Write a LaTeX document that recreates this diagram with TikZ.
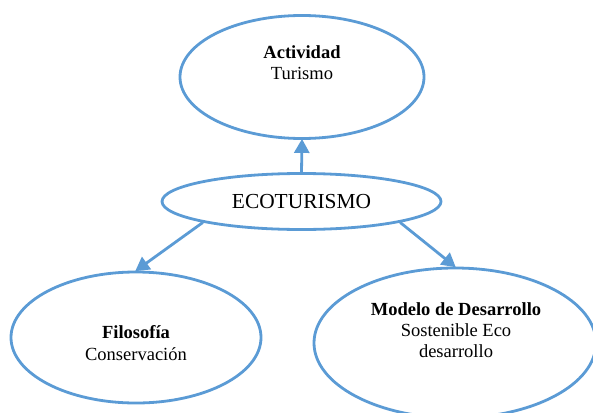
\documentclass[tikz,border=0pt]{standalone}
\usepackage{fontspec}
\setmainfont{Liberation Serif}
\usetikzlibrary{shapes.geometric,arrows.meta}
\definecolor{ebl}{HTML}{5B9BD5}
\tikzset{
  ell/.style={ellipse,draw=ebl,line width=2.8pt,inner sep=0pt},
  conn/.style={draw=ebl,line width=2.8pt,-{Triangle[width=15pt,length=14pt]},shorten >=-1pt},
  txt/.style={align=center,font=\fontsize{18.5}{21.3}\selectfont,inner sep=0pt}
}
\begin{document}
\begin{tikzpicture}[x=1pt,y=-1pt]
\useasboundingbox (0,0) rectangle (593,412);
\node[ell,minimum width=244pt,minimum height=123pt] (act) at (302,77) {};
\node[txt] (actt) at (302,63) {\textbf{Actividad}\\Turismo};
\node[ell,minimum width=279pt,minimum height=56pt,font=\fontsize{21.4}{24}\selectfont] (eco) at (301.5,201.5) {ECOTURISMO};
\node[ell,minimum width=250pt,minimum height=131pt] (fil) at (136,337.5) {};
\node[txt] (filt) at (136,343) {\textbf{Filosofía}\\Conservación};
\node[ell,minimum width=282pt,minimum height=150pt] (mod) at (455,343) {};
\node[txt] (modt) at (456,330) {\textbf{Modelo de Desarrollo}\\Sostenible Eco\\desarrollo};
\draw[conn] (eco.north) -- (act.south);
\draw[conn] (eco.192) -- (fil.north);
\draw[conn] (eco.348) -- (mod.north);
\end{tikzpicture}
\end{document}
